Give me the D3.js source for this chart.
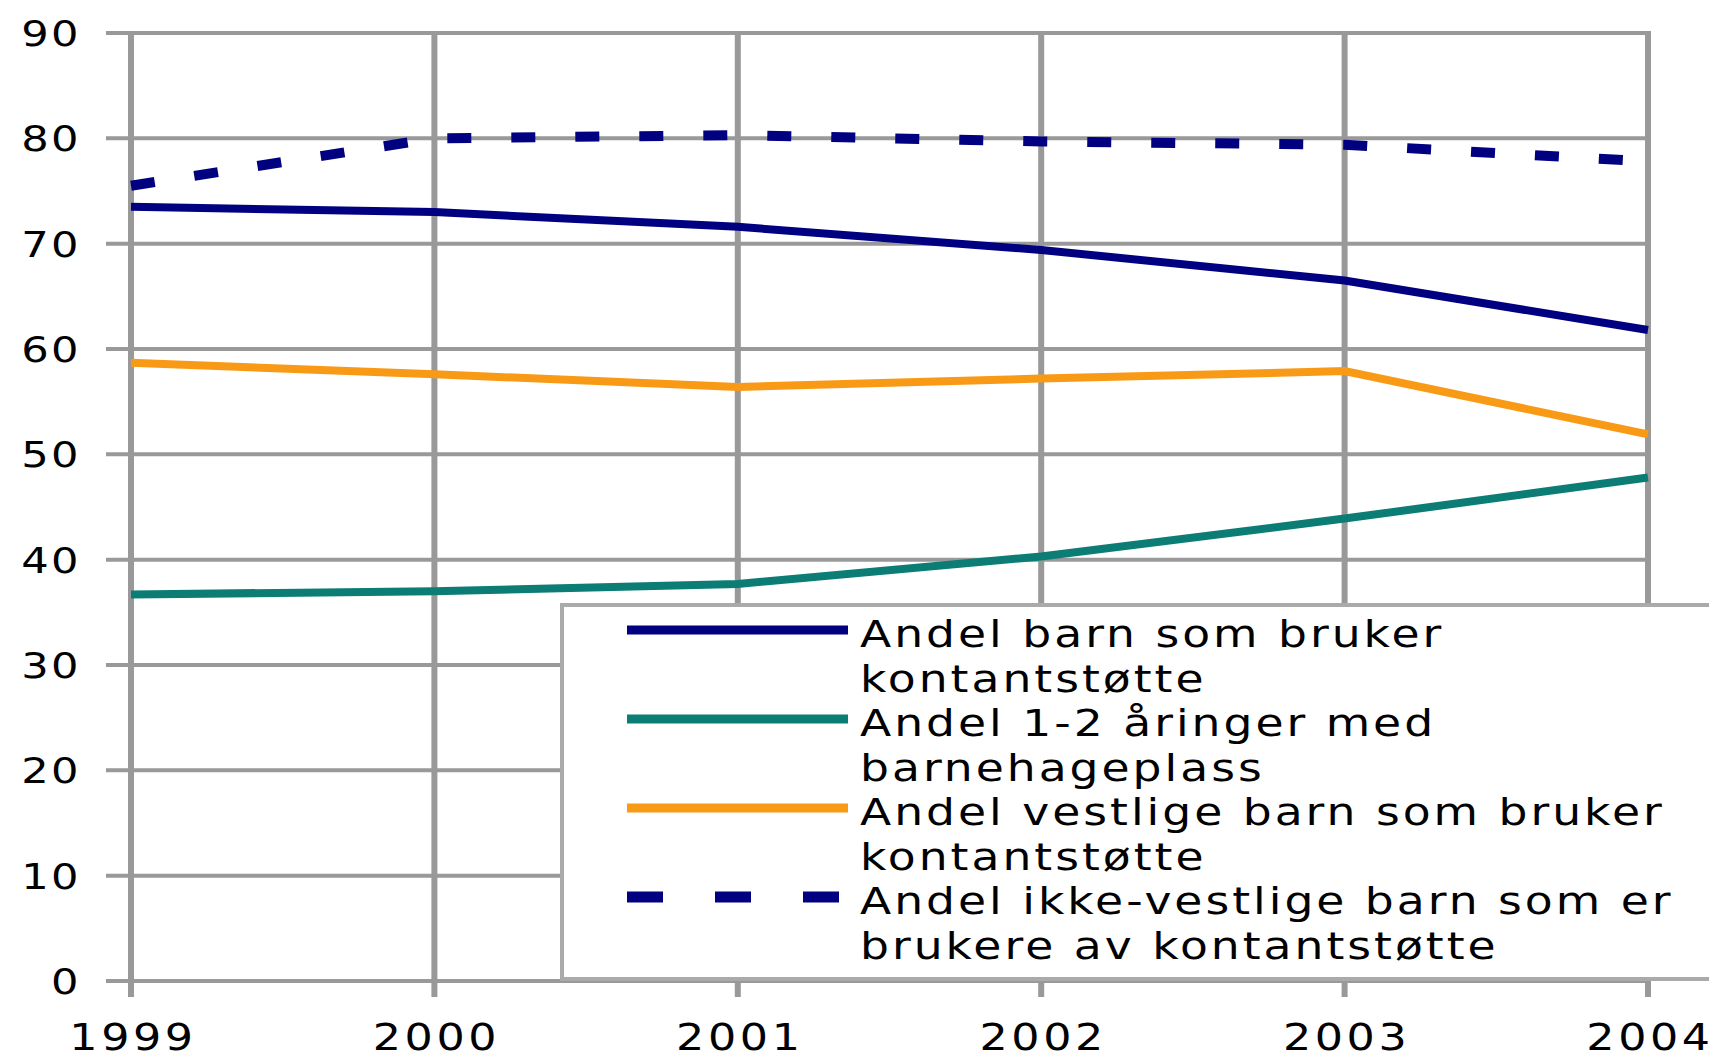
<!DOCTYPE html>
<html>
<head>
<meta charset="utf-8">
<script src="https://cdn.jsdelivr.net/npm/d3@7"></script>
<style>
  body { margin: 0; background: #fff; }
  text { font-family: "DejaVu Sans", Verdana, sans-serif; fill: #000; }
</style>
</head>
<body>
<script>
var years = [1999, 2000, 2001, 2002, 2003, 2004];
var yTicks = [0, 10, 20, 30, 40, 50, 60, 70, 80, 90];

var barnKontant = [73.5, 73.0, 71.6, 69.4, 66.5, 61.8];
var barnehage = [36.7, 37.0, 37.7, 40.3, 43.9, 47.8];
var vestlige = [58.7, 57.6, 56.4, 57.2, 57.9, 51.9];
var ikkeVestlige = [75.5, 80.0, 80.3, 79.7, 79.4, 77.8];

var seriesNames = [
  ["Andel barn som bruker", "kontantstøtte"],
  ["Andel 1-2 åringer med", "barnehageplass"],
  ["Andel vestlige barn som bruker", "kontantstøtte"],
  ["Andel ikke-vestlige barn som er", "brukere av kontantstøtte"]
];

var series = [
  { values: barnKontant, color: "#000080", dash: null, legendDash: null },
  { values: barnehage, color: "#0b7d74", dash: null, legendDash: null },
  { values: vestlige, color: "#f99a17", dash: null, legendDash: null },
  { values: ikkeVestlige, color: "#000080", dash: "24,40", legendDash: "36,52" }
];

var W = 1709, H = 1055;
var stretch = 1.2;

var svg = d3.select("body")
  .append("svg")
  .attr("width", W)
  .attr("height", H);

var x = d3.scaleLinear().domain([1999, 2004]).range([131, 1648]);
var y = d3.scaleLinear().domain([0, 90]).range([981, 33]);

// horizontal grid + y tick marks
svg.append("g")
  .selectAll("line")
  .data(yTicks)
  .enter()
  .append("line")
  .attr("x1", 106)
  .attr("x2", x(2004))
  .attr("y1", function (d) { return y(d); })
  .attr("y2", function (d) { return y(d); })
  .style("stroke", "#999")
  .style("stroke-width", 4);

// vertical grid + x tick marks
svg.append("g")
  .selectAll("line")
  .data(years)
  .enter()
  .append("line")
  .attr("x1", function (d) { return x(d); })
  .attr("x2", function (d) { return x(d); })
  .attr("y1", y(90) - 2)
  .attr("y2", y(0) + 16)
  .style("stroke", "#999")
  .style("stroke-width", 6);

// y labels
svg.append("g")
  .selectAll("text")
  .data(yTicks)
  .enter()
  .append("text")
  .attr("transform", function (d) { return "translate(81," + (y(d) + 13) + ") scale(" + stretch + ",1)"; })
  .attr("text-anchor", "end")
  .style("font-size", "36px")
  .style("letter-spacing", "2px")
  .text(function (d) { return d; });

// x labels
svg.append("g")
  .selectAll("text")
  .data(years)
  .enter()
  .append("text")
  .attr("transform", function (d) { return "translate(" + (x(d) + 2) + ",1050) scale(" + stretch + ",1)"; })
  .attr("text-anchor", "middle")
  .style("font-size", "37px")
  .style("letter-spacing", "3px")
  .text(function (d) { return d; });

var line = d3.line()
  .x(function (d, i) { return x(years[i]); })
  .y(function (d) { return y(d); });

svg.append("g")
  .selectAll("path")
  .data(series)
  .enter()
  .append("path")
  .attr("d", function (d) { return line(d.values); })
  .style("fill", "none")
  .style("stroke", function (d) { return d.color; })
  .style("stroke-width", function (d) { return d.dash ? 10 : 8; })
  .style("stroke-dasharray", function (d) { return d.dash; });

// legend
var lg = svg.append("g");
lg.append("rect")
  .attr("x", 562)
  .attr("y", 605)
  .attr("width", W - 562 + 10)
  .attr("height", 374)
  .style("fill", "#fff")
  .style("stroke", "#aaa")
  .style("stroke-width", 4);

var rowY = function (i) { return 630 + i * 89; };

lg.selectAll("line.key")
  .data(series)
  .enter()
  .append("line")
  .attr("class", "key")
  .attr("x1", 627)
  .attr("x2", function (d) { return d.legendDash ? 846 : 848; })
  .attr("y1", function (d, i) { return rowY(i); })
  .attr("y2", function (d, i) { return rowY(i); })
  .style("stroke", function (d) { return d.color; })
  .style("stroke-width", function (d) { return d.legendDash ? 11 : 9; })
  .style("stroke-dasharray", function (d) { return d.legendDash; });

seriesNames.forEach(function (lines, i) {
  lg.append("text")
    .attr("transform", "translate(860," + (rowY(i) + 17) + ") scale(" + stretch + ",1)")
    .style("font-size", "38px")
    .style("letter-spacing", "2.5px")
    .selectAll("tspan")
    .data(lines)
    .enter()
    .append("tspan")
    .attr("x", 0)
    .attr("dy", function (d, j) { return j === 0 ? 0 : 45; })
    .text(function (d) { return d; });
});
</script>
</body>
</html>
